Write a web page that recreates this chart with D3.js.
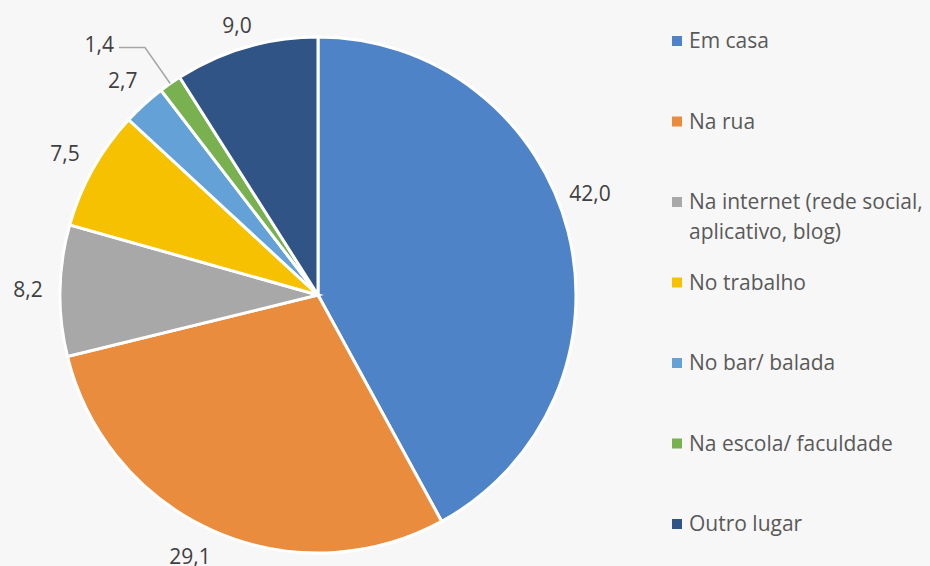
<!DOCTYPE html>
<meta charset="utf-8">
<style>
body { margin: 0; background: #f7f7f7; }
text { font-family: "Open Sans", Lato, sans-serif; }
.lbl { fill: #404040; font-size: 21px; }
.leg { fill: #595959; font-size: 21px; }
</style>
<body>
<script src="https://d3js.org/d3.v7.min.js"></script>
<script>
// data
var places = ["Em casa", "Na rua", "Na internet (rede social, aplicativo, blog)", "No trabalho",
    "No bar/ balada", "Na escola/ faculdade", "Outro lugar"];
var legendLines = [["Em casa"], ["Na rua"], ["Na internet (rede social,", "aplicativo, blog)"], ["No trabalho"],
    ["No bar/ balada"], ["Na escola/ faculdade"], ["Outro lugar"]];
var shares = [42.0, 29.1, 8.2, 7.5, 2.7, 1.4, 9.0];
var colors = ["#4f83c7", "#ea8c3e", "#a8a8a8", "#f6c100", "#64a1d6", "#79b151", "#2f5485"];

var width = 930, height = 566;
var cx = 318, cy = 295, r = 258;

var svg = d3.select("body").append("svg")
    .attr("width", width)
    .attr("height", height);

var data = places.map(function(p, i) { return {name: p, value: shares[i], color: colors[i]}; });

var pie = d3.pie().sort(null).value(function(d) { return d.value; });
var arc = d3.arc().innerRadius(0).outerRadius(r);
var labelArc = d3.arc().innerRadius(290).outerRadius(290);

var g = svg.append("g").attr("transform", "translate(" + cx + "," + cy + ")");
var arcs = pie(data);

g.selectAll("path.slice")
    .data(arcs).enter()
    .append("path")
    .attr("class", "slice")
    .attr("d", arc)
    .attr("fill", function(d) { return d.data.color; })
    .attr("stroke", "#fff")
    .attr("stroke-width", 3);

function fmt(v) { return v.toFixed(1).replace(".", ","); }

// small shifts the way the original pushed some labels back inside the frame
var nudge = {0: [-9, -30], 1: [-11, -4], 6: [0, 9]};

arcs.forEach(function(d) {
  var a = (d.startAngle + d.endAngle) / 2;
  if (d.data.value < 2) {
    // leader line for the thin slice
    var p0 = [Math.sin(a) * r, -Math.cos(a) * r];
    var p1 = [Math.sin(a) * 302, -Math.cos(a) * 302];
    var p2 = [p1[0] - 26, p1[1]];
    g.append("polyline")
        .attr("points", [p0, p1, p2].map(function(p) { return p.join(","); }).join(" "))
        .attr("fill", "none")
        .attr("stroke", "#a6a6a6")
        .attr("stroke-width", 1.5);
    g.append("text")
        .attr("class", "lbl")
        .attr("x", p2[0] - 5)
        .attr("y", p2[1] - 3)
        .attr("dy", "0.35em")
        .attr("text-anchor", "end")
        .text(fmt(d.data.value));
  } else {
    var c = labelArc.centroid(d);
    var n = nudge[d.index] || [0, 0];
    g.append("text")
        .attr("class", "lbl")
        .attr("x", c[0] + n[0])
        .attr("y", c[1] + n[1])
        .attr("dy", "0.35em")
        .attr("text-anchor", "middle")
        .text(fmt(d.data.value));
  }
});

// legend
var legend = svg.append("g").attr("transform", "translate(672,41)");
var row = legend.selectAll("g")
    .data(data).enter()
    .append("g")
    .attr("transform", function(d, i) { return "translate(0," + (i * 80.5) + ")"; });

row.append("rect")
    .attr("x", 0).attr("y", -5)
    .attr("width", 10).attr("height", 10)
    .attr("fill", function(d) { return d.color; });

row.append("text")
    .attr("class", "leg")
    .attr("x", 17)
    .selectAll("tspan")
    .data(function(d, i) { return legendLines[i]; }).enter()
    .append("tspan")
    .attr("x", 17)
    .attr("dy", function(t, j) { return j === 0 ? "0.35em" : "1.43em"; })
    .text(function(t) { return t; });
</script>
</body>
